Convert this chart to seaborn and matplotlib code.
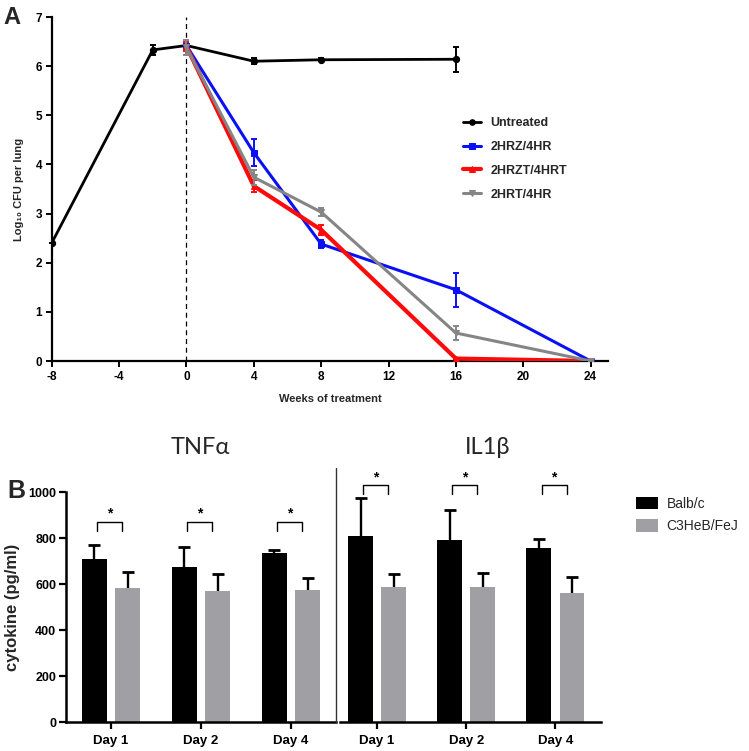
import matplotlib
matplotlib.use("Agg")
import matplotlib.pyplot as plt
from matplotlib.lines import Line2D
from matplotlib.patches import Patch
import seaborn as sns
import pandas as pd
import numpy as np

# ---------------- data: panel A ----------------
weeks_untreated = [-8, -2, 0, 4, 8, 16]
untreated = [2.40, 6.33, 6.42, 6.10, 6.13, 6.14]
untreated_err = [0.0, 0.10, 0.05, 0.06, 0.03, 0.25]

weeks_tx = [0, 4, 8, 16, 24]
hrz = [6.42, 4.24, 2.38, 1.45, 0.0]
hrz_err = [0.05, 0.27, 0.08, 0.35, 0.0]
hrzt = [6.40, 3.56, 2.67, 0.05, 0.0]
hrzt_err = [0.10, 0.12, 0.10, 0.0, 0.0]
hrt = [6.38, 3.74, 3.03, 0.57, 0.0]
hrt_err = [0.15, 0.15, 0.08, 0.15, 0.0]

series_names = ["Untreated", "2HRZ/4HR", "2HRZT/4HRT", "2HRT/4HR"]
x_ticks_a = [-8, -4, 0, 4, 8, 12, 16, 20, 24]

# ---------------- data: panel B ----------------
days = ["Day 1", "Day 2", "Day 4"]
strains = ["Balb/c", "C3HeB/FeJ"]
tnf_balb = [710, 677, 737]
tnf_balb_err = [61, 86, 13]
tnf_c3h = [585, 570, 577]
tnf_c3h_err = [70, 74, 52]
il1_balb = [810, 793, 759]
il1_balb_err = [164, 130, 37]
il1_c3h = [590, 590, 561]
il1_c3h_err = [55, 58, 72]

sns.set_theme(style="white")
plt.rcParams["font.family"] = ["Liberation Sans", "DejaVu Sans"]
plt.rcParams["axes.unicode_minus"] = False

fig = plt.figure(figsize=(7.49, 7.51), dpi=100)

# ================= Panel A =================
axA = fig.add_axes([51.7 / 749, 1 - 361 / 751, (608.3 - 51.7) / 749, 344 / 751])

specs = [
    (weeks_untreated, untreated, untreated_err, "black", "o", 2.0, 4.5, series_names[0]),
    (weeks_tx, hrz, hrz_err, "#0a10f5", "s", 2.2, 4.5, series_names[1]),
    (weeks_tx, hrzt, hrzt_err, "#ff0a0a", "^", 3.0, 5, series_names[2]),
    (weeks_tx, hrt, hrt_err, "#858585", "v", 2.2, 4.5, series_names[3]),
]
draw_order = [1, 3, 2, 0]
for i in draw_order:
    xs, ys, es, col, mk, lw, ms, name = specs[i]
    df = pd.DataFrame({"week": xs, "value": ys})
    sns.lineplot(data=df, x="week", y="value", ax=axA, color=col, marker=mk,
                 markersize=ms, markeredgecolor=col, linewidth=lw, label=name,
                 errorbar=None, sort=False, zorder=3 + i)
    axA.errorbar(xs, ys, yerr=es, fmt="none", ecolor=col, elinewidth=1.4,
                 capsize=2.2, capthick=1.4, zorder=3 + i, clip_on=False)

axA.axvline(0, color="black", linestyle=(0, (4, 3)), linewidth=0.9, zorder=1)
axA.set_xlim(-8, 25.05)
axA.set_ylim(0, 7)
axA.set_xticks(x_ticks_a)
axA.set_yticks(range(0, 8))
for s in ["top", "right"]:
    axA.spines[s].set_visible(False)
for s in ["left", "bottom"]:
    axA.spines[s].set_linewidth(1.6)
    axA.spines[s].set_color("black")
axA.tick_params(axis="both", direction="out", length=4, width=1.4, colors="black",
                labelsize=8.5, pad=3, left=True, bottom=True)
for lab in axA.get_xticklabels() + axA.get_yticklabels():
    lab.set_fontweight("bold")
axA.set_xlabel("Weeks of treatment", fontsize=8, fontweight="bold", labelpad=8)
axA.set_ylabel("Log\u2081\u2080 CFU per lung", fontsize=8, fontweight="bold", labelpad=8)

handles, labels = axA.get_legend_handles_labels()
order = [labels.index(n) for n in series_names]
legA = axA.legend([handles[k] for k in order], [labels[k] for k in order],
                  loc="upper left", bbox_to_anchor=(458 / 749, 1 - 112 / 751),
                  bbox_transform=fig.transFigure, frameon=False,
                  prop={"size": 9, "weight": "bold"}, handlelength=1.4,
                  handletextpad=0.8, labelspacing=0.95, borderaxespad=0)
for h in legA.legend_handles:
    h.set_markersize(4)

fig.text(12 / 749, 1 - 17 / 751, "A", fontsize=17, fontweight="bold",
         ha="center", va="center")

# ================= Panel B =================
gray = "#a0a0a4"
palette = {strains[0]: "black", strains[1]: gray}
y0 = 1 - 722.3 / 751
hB = 230 / 751
axL = fig.add_axes([66 / 749, y0, 270 / 749, hB])
axR = fig.add_axes([340 / 749, y0, 261 / 749, hB])


def bar_panel(ax, balb, balb_err, c3h, c3h_err, xlim, bracket_y):
    df = pd.DataFrame({
        "day": days * 2,
        "value": balb + c3h,
        "strain": [strains[0]] * 3 + [strains[1]] * 3,
    })
    sns.barplot(data=df, x="day", y="value", hue="strain", order=days,
                hue_order=strains, palette=palette, width=0.74, gap=0.243,
                errorbar=None, legend=False, ax=ax, linewidth=0, saturation=1)
    errs = [balb_err, c3h_err]
    vals = [balb, c3h]
    centers = []
    for ci, cont in enumerate(ax.containers[:2]):
        xs = [p.get_x() + p.get_width() / 2 for p in cont.patches]
        centers.append(xs)
        eb = ax.errorbar(xs, vals[ci], yerr=[np.zeros(3), errs[ci]], fmt="none",
                         ecolor="black", elinewidth=1.7, capsize=4, capthick=2,
                         zorder=5, clip_on=False)
        # keep only the upper caps (GraphPad style "mean + SD")
        for cap in eb[1]:
            if np.allclose(cap.get_ydata(), vals[ci]):
                cap.set_visible(False)
    # significance brackets
    for k in range(3):
        xl = centers[0][k] + 0.03
        xr = centers[1][k] - 0.06
        top = bracket_y
        bot = bracket_y - 40
        ax.plot([xl, xl, xr, xr], [bot, top, top, bot], color="black",
                linewidth=1.0, clip_on=False, zorder=6)
        ax.text((xl + xr) / 2, top + 5, "*", ha="center", va="bottom",
                fontsize=10, fontweight="bold", color="black")
    ax.set_xlim(*xlim)
    ax.set_ylim(0, 1000)
    ax.set_xlabel("")
    ax.set_ylabel("")
    for s in ["top", "right"]:
        ax.spines[s].set_visible(False)
    ax.spines["bottom"].set_linewidth(1.8)
    ax.spines["bottom"].set_color("black")
    ax.tick_params(axis="x", direction="out", length=5, width=1.6, colors="black",
                   labelsize=9.5, pad=4, bottom=True)
    for lab in ax.get_xticklabels():
        lab.set_fontweight("bold")


bar_panel(axL, tnf_balb, tnf_balb_err, tnf_c3h, tnf_c3h_err, (-0.5, 2.5), 871)
bar_panel(axR, il1_balb, il1_balb_err, il1_c3h, il1_c3h_err, (-0.415, 2.51), 1031)

axL.spines["left"].set_linewidth(1.8)
axL.spines["left"].set_color("black")
axL.set_yticks([0, 200, 400, 600, 800, 1000])
axL.tick_params(axis="y", direction="out", length=5, width=1.6, colors="black",
                labelsize=9, pad=2, left=True)
for lab in axL.get_yticklabels():
    lab.set_fontweight("bold")
axL.set_ylabel("cytokine (pg/ml)", fontsize=12, fontweight="bold", labelpad=6)

axR.spines["left"].set_visible(False)
axR.set_yticks([])

# separator line between panels
fig.add_artist(Line2D([336 / 749, 336 / 749], [1 - 722 / 751, 1 - 468 / 751],
                      color="#333333", linewidth=1.0, transform=fig.transFigure))

# titles
title_font = ["Lato", "DejaVu Sans"]
fig.text(200 / 749, 1 - 447 / 751, "TNF\u03b1", fontsize=17, family=title_font,
         ha="center", va="center")
fig.text(488 / 749, 1 - 447 / 751, "IL1\u03b2", fontsize=17, family=title_font,
         ha="center", va="center")

fig.text(16 / 749, 1 - 491 / 751, "B", fontsize=18, fontweight="bold",
         ha="center", va="center")

legB_handles = [Patch(facecolor="black", edgecolor="none"),
                Patch(facecolor=gray, edgecolor="none")]
fig.legend(legB_handles, strains, loc="upper left",
           bbox_to_anchor=(636 / 749, 1 - 497 / 751), frameon=False,
           prop={"size": 10}, handlelength=1.6, handleheight=1.0,
           handletextpad=0.6, labelspacing=0.6, borderaxespad=0, borderpad=0)

fig.savefig("out.png", dpi=100)
